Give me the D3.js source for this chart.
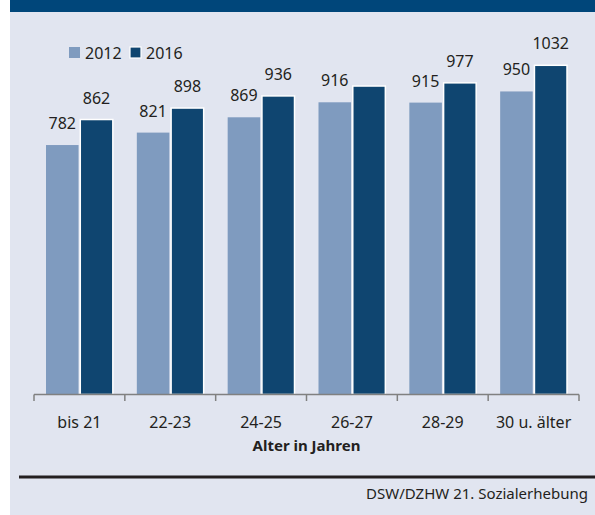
<!DOCTYPE html>
<html><head><meta charset="utf-8">
<script src="https://cdn.jsdelivr.net/npm/d3@7"></script>
<style>body{margin:0;background:#fff} svg{display:block}</style>
</head><body><svg id="c" width="595" height="515"></svg>
<script>
const categories = ["bis 21", "22-23", "24-25", "26-27", "28-29", "30 u. älter"];
const seriesNames = ["2012", "2016"];
const values2012 = [782, 821, 869, 916, 915, 950];
const values2016 = [862, 898, 936, 967, 977, 1032];
const labels2012 = ["782", "821", "869", "916", "915", "950"];
const labels2016 = ["862", "898", "936", "", "977", "1032"];
const axisTitle = "Alter in Jahren";
const sourceText = "DSW/DZHW 21. Sozialerhebung";

const colors = {"2012": "#7f9bbf", "2016": "#0f4570"};
const font = "'Noto Sans', 'Open Sans', sans-serif";
const textColor = "#231f20";

const svg = d3.select("#c");
// panel + header
svg.append("rect").attr("x", 10).attr("y", 0).attr("width", 585).attr("height", 515).attr("fill", "#e1e5f0");
svg.append("rect").attr("x", 10).attr("y", 0).attr("width", 585).attr("height", 12).attr("fill", "#00467a");

const x0 = d3.scaleBand().domain(categories).range([34, 579]).paddingInner(0).paddingOuter(0);
const bw = x0.bandwidth();
const x1 = d3.scaleBand().domain(seriesNames).range([12, bw - 12]).paddingInner(0.05);
const y = d3.scaleLinear().domain([0, 1000]).range([394.5, 75.5]);

const data = categories.map((c, i) => ({
  cat: c,
  vals: [
    {s: "2012", v: values2012[i], l: labels2012[i]},
    {s: "2016", v: values2016[i], l: labels2016[i]}
  ]
}));

const g = svg.append("g").selectAll("g").data(data).join("g")
  .attr("transform", d => `translate(${x0(d.cat)},0)`);

g.selectAll("rect").data(d => d.vals).join("rect")
  .attr("x", d => x1(d.s))
  .attr("y", d => y(d.v))
  .attr("width", x1.bandwidth())
  .attr("height", d => y(0) - y(d.v))
  .attr("fill", d => colors[d.s])
  .attr("stroke", d => d.s === "2016" ? "#fff" : "none")
  .attr("stroke-width", 1.5);

g.selectAll("text").data(d => d.vals).join("text")
  .attr("x", d => x1(d.s) + x1.bandwidth() / 2)
  .attr("y", d => y(d.v) - 16)
  .attr("text-anchor", "middle")
  .attr("font-family", font).attr("font-size", 16).attr("fill", textColor)
  .text(d => d.l);

// axis
const axisG = svg.append("g");
axisG.append("line").attr("x1", 34).attr("x2", 579).attr("y1", 394.5).attr("y2", 394.5)
  .attr("stroke", "#808080").attr("stroke-width", 1.5);
const edges = categories.map(c => x0(c)).concat([x0.range()[1]]);
axisG.selectAll(".tk").data(edges).join("line").attr("class", "tk")
  .attr("x1", d => d).attr("x2", d => d).attr("y1", 394.5).attr("y2", 401)
  .attr("stroke", "#808080").attr("stroke-width", 1.5);
axisG.selectAll(".tl").data(categories).join("text").attr("class", "tl")
  .attr("x", d => x0(d) + bw / 2).attr("y", 428)
  .attr("text-anchor", "middle")
  .attr("font-family", font).attr("font-size", 16).attr("fill", textColor)
  .text(d => d);
svg.append("text").attr("x", (34 + 579) / 2).attr("y", 451)
  .attr("text-anchor", "middle")
  .attr("font-family", font).attr("font-size", 15).attr("font-weight", "bold").attr("fill", textColor)
  .text(axisTitle);

// legend
const leg = svg.append("g").selectAll("g").data(seriesNames).join("g")
  .attr("transform", (d, i) => `translate(${69 + i * 61},47)`);
leg.append("rect").attr("width", 11).attr("height", 11)
  .attr("fill", d => colors[d])
  .attr("stroke", d => d === "2016" ? "#fff" : "none").attr("stroke-width", 1.2);
leg.append("text").attr("x", 16).attr("y", 12)
  .attr("font-family", font).attr("font-size", 16).attr("fill", textColor)
  .text(d => d);

// source line
svg.append("rect").attr("x", 19).attr("y", 475.5).attr("width", 576).attr("height", 3).attr("fill", "#231f20");
svg.append("text").attr("x", 588).attr("y", 499).attr("text-anchor", "end")
  .attr("font-family", font).attr("font-size", 15).attr("fill", textColor)
  .text(sourceText);
</script></body></html>
